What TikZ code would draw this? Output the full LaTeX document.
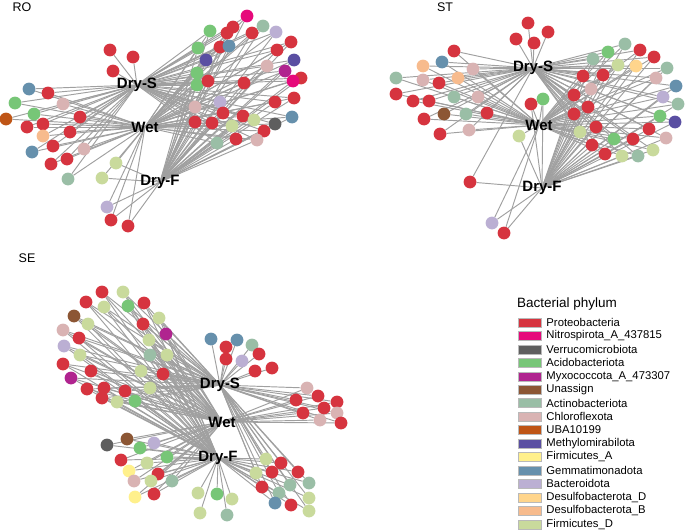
\documentclass[tikz,border=0pt]{standalone}
\usepackage{fontspec}
\setmainfont{Liberation Sans}
\usetikzlibrary{backgrounds,positioning}

\definecolor{cLink}{HTML}{A0A0A0}
\definecolor{cPro}{HTML}{D6343F}
\definecolor{cNit}{HTML}{E6097B}
\definecolor{cVer}{HTML}{5E5E5E}
\definecolor{cAci}{HTML}{77C677}
\definecolor{cMyx}{HTML}{B0248F}
\definecolor{cUna}{HTML}{8C5634}
\definecolor{cAct}{HTML}{9ABEA6}
\definecolor{cChl}{HTML}{D9B3B3}
\definecolor{cUba}{HTML}{BF5516}
\definecolor{cMet}{HTML}{5A4FA2}
\definecolor{cFiA}{HTML}{FFF08C}
\definecolor{cGem}{HTML}{6690AC}
\definecolor{cBac}{HTML}{BBAFD3}
\definecolor{cDeD}{HTML}{FFD58C}
\definecolor{cDeB}{HTML}{F7BB8D}
\definecolor{cFiD}{HTML}{C9DA9C}

\tikzset{
  otu/.style={circle,inner sep=0pt,minimum size=12.8pt},
  link/.style={draw=cLink,line width=0.95pt},
  hub/.style={inner sep=0pt,font=\fontsize{15}{17}\selectfont\bfseries},
  panel/.style={inner sep=0pt,font=\fontsize{12.5}{15}\selectfont},
  key/.style={rectangle,draw=gray!55,line width=0.5pt,minimum width=23pt,minimum height=9pt,inner sep=0pt},
  keytext/.style={inner sep=0pt,font=\fontsize{11.3}{13}\selectfont},
  Pro/.style={fill=cPro}, Nit/.style={fill=cNit}, Ver/.style={fill=cVer},
  Aci/.style={fill=cAci}, Myx/.style={fill=cMyx}, Una/.style={fill=cUna},
  Act/.style={fill=cAct}, Chl/.style={fill=cChl}, Uba/.style={fill=cUba},
  Met/.style={fill=cMet}, FiA/.style={fill=cFiA}, Gem/.style={fill=cGem},
  Bac/.style={fill=cBac}, DeD/.style={fill=cDeD}, DeB/.style={fill=cDeB},
  FiD/.style={fill=cFiD}
}

\begin{document}
\begin{tikzpicture}[x=1pt,y=-1pt]
  \useasboundingbox (0,0) rectangle (685,530);

  \begin{scope}
    % Network RO
    \node[panel] (RO label) at (22,7)   {RO};
    \node[hub]   (RO S)     at (137,85) {Dry-S};
    \node[hub]   (RO W)     at (145,127) {Wet};
    \node[hub]   (RO F)     at (160,182) {Dry-F};
    \foreach \x/\y/\c [count=\i] in {110/50/Pro,133/57/Pro,113/71/Pro} {
      \node[otu,\c] (RO a\i) at (\x,\y) {};
      \begin{scope}[on background layer]
        \draw[link] (RO a\i) -- (RO S.center);
      \end{scope}
    }
    \foreach \x/\y/\c [count=\i] in {29/89/Gem,48/93/Pro,15/103/Aci,63/104/Chl,34/114/Aci,
        6/119/Uba,80/117/Pro,27/127/Pro,43/124/Pro,43/136/DeB,70/132/Pro,53/146/Pro,
        32/152/Gem,84/149/Chl,67/159/Pro,51/164/Pro,68/179/Act} {
      \node[otu,\c] (RO b\i) at (\x,\y) {};
      \begin{scope}[on background layer]
        \foreach \h in {S,W} \draw[link] (RO b\i) -- (RO \h.center);
      \end{scope}
    }
    \foreach \x/\y/\c [count=\i] in {116/163/FiD,102/178/FiD,107/207/Bac,111/220/Pro,128/226/Pro} {
      \node[otu,\c] (RO c\i) at (\x,\y) {};
      \begin{scope}[on background layer]
        \foreach \h in {W,F} \draw[link] (RO c\i) -- (RO \h.center);
      \end{scope}
    }
    \foreach \x/\y/\c [count=\i] in {247/16/Nit,210/31/Aci,233/27/Pro,227/33/Pro,263/26/Act,
        276/32/Bac,252/33/Pro,291/42/Pro,198/48/Aci,220/47/Pro,229/46/Gem,277/50/Pro,
        206/60/Met,294/60/Met,267/66/Chl,285/71/Myx,301/78/Pro,293/81/Nit,197/73/Aci,
        197/85/Aci,208/81/Pro,244/83/Pro,294/98/Pro,275/102/Pro,220/102/Bac,195/107/Chl,
        223/113/Pro,243/116/Pro,254/120/FiD,292/117/Gem,195/122/Pro,212/123/Pro,
        232/126/FiD,275/124/Ver,264/131/Pro,217/143/Act,236/139/Pro,257/140/Chl} {
      \node[otu,\c] (RO d\i) at (\x,\y) {};
      \begin{scope}[on background layer]
        \foreach \h in {S,W,F} \draw[link] (RO d\i) -- (RO \h.center);
      \end{scope}
    }
  \end{scope}

  \begin{scope}
    % Network ST
    \node[panel] (ST label) at (445,7)   {ST};
    \node[hub]   (ST S)     at (533,68)  {Dry-S};
    \node[hub]   (ST W)     at (539,125) {Wet};
    \node[hub]   (ST F)     at (542,188) {Dry-F};
    \foreach \x/\y/\c [count=\i] in {528/23/Pro,548/32/Pro,516/39/Pro,534/43/Pro} {
      \node[otu,\c] (ST a\i) at (\x,\y) {};
      \begin{scope}[on background layer]
        \draw[link] (ST a\i) -- (ST S.center);
      \end{scope}
    }
    \foreach \x/\y/\c [count=\i] in {454/51/Pro,423/66/DeB,442/62/Gem,473/69/Chl,396/78/Act,
        423/80/Chl,458/78/DeB,439/83/Pro,396/94/Pro,413/101/Pro,429/101/Pro,454/97/Act,
        478/97/Chl,424/119/Pro,444/114/Una,466/114/Act,487/113/Pro,440/134/Pro,469/130/Chl} {
      \node[otu,\c] (ST b\i) at (\x,\y) {};
      \begin{scope}[on background layer]
        \foreach \h in {S,W} \draw[link] (ST b\i) -- (ST \h.center);
      \end{scope}
    }
    \foreach \x/\y/\c [count=\i] in {531/104/Pro,543/99/Aci,519/136/FiD,492/223/Bac,504/233/Pro} {
      \node[otu,\c] (ST c\i) at (\x,\y) {};
      \begin{scope}[on background layer]
        \foreach \h in {W,F} \draw[link] (ST c\i) -- (ST \h.center);
      \end{scope}
    }
    \node[otu,Pro] (ST e1) at (470,182) {};
    \begin{scope}[on background layer]
      \draw[link] (ST e1) -- (ST S.center) (ST e1) -- (ST F.center);
    \end{scope}
    \foreach \x/\y/\c [count=\i] in {625/44/Act,608/52/Aci,640/50/Pro,654/57/Pro,593/59/Act,
        618/65/FiD,636/66/DeD,667/68/Act,583/76/Pro,603/75/Pro,656/78/Chl,676/86/Gem,
        591/89/Chl,574/95/Pro,663/97/Bac,678/104/Act,588/107/Pro,574/114/Pro,660/116/Aci,
        675/122/Met,596/127/Pro,580/132/FiD,649/129/Pro,614/139/Aci,633/139/Pro,
        666/138/Chl,592/145/Pro,605/154/Pro,622/156/FiD,638/156/Act,653/150/FiD} {
      \node[otu,\c] (ST d\i) at (\x,\y) {};
      \begin{scope}[on background layer]
        \foreach \h in {S,W,F} \draw[link] (ST d\i) -- (ST \h.center);
      \end{scope}
    }
  \end{scope}

  \begin{scope}
    % Network SE
    \node[panel] (SE label) at (27,258)  {SE};
    \node[hub]   (SE S)     at (220,385) {Dry-S};
    \node[hub]   (SE W)     at (222,422) {Wet};
    \node[hub]   (SE F)     at (218,458) {Dry-F};
    \foreach \x/\y/\c [count=\i] in {102/292/Pro,123/292/FiD,86/302/Pro,104/307/FiD,128/306/Aci,
        144/303/Pro,74/316/Una,159/318/FiD,88/324/FiD,143/324/Pro,63/330/Chl,166/334/Myx,
        79/338/Pro,149/340/FiD,64/346/Bac,150/355/Act,167/355/FiD,80/355/FiD,63/364/Pro,
        91/371/Pro,141/371/FiD,163/374/Pro,71/378/Myx,150/388/FiD,87/389/Pro,104/388/Pro,
        125/391/Pro,102/398/Pro,117/402/FiD,135/401/Aci} {
      \node[otu,\c] (SE a\i) at (\x,\y) {};
      \begin{scope}[on background layer]
        \foreach \h in {S,W,F} \draw[link] (SE a\i) -- (SE \h.center);
      \end{scope}
    }
    \foreach \x/\y/\c [count=\i] in {211/339/Gem,237/340/Gem,226/347/Pro,252/345/Act,259/354/Pro,
        226/359/Pro,242/361/Bac,255/371/Pro,272/368/Pro} {
      \node[otu,\c] (SE b\i) at (\x,\y) {};
      \begin{scope}[on background layer]
        \draw[link] (SE b\i) -- (SE S.center);
      \end{scope}
    }
    \foreach \x/\y/\c [count=\i] in {307/388/Chl,318/396/Pro,296/400/Pro,337/402/Pro,324/408/Pro,
        303/413/Pro,337/413/Chl,320/420/Chl,341/423/Pro} {
      \node[otu,\c] (SE c\i) at (\x,\y) {};
      \begin{scope}[on background layer]
        \foreach \h in {S,W} \draw[link] (SE c\i) -- (SE \h.center);
      \end{scope}
    }
    \foreach \x/\y/\c [count=\i] in {107/445/Ver,127/439/Una,140/448/Aci,154/443/Bac,121/460/Pro,
        147/463/FiD,167/457/Aci,129/471/FiA,158/474/Pro,134/481/Chl,151/481/FiD,
        172/481/Act,135/497/FiA,154/494/Pro} {
      \node[otu,\c] (SE d\i) at (\x,\y) {};
      \begin{scope}[on background layer]
        \foreach \h in {W,F} \draw[link] (SE d\i) -- (SE \h.center);
      \end{scope}
    }
    \foreach \x/\y/\c [count=\i] in {198/493/FiD,217/494/Aci,232/499/FiD,200/513/FiD,227/515/Act} {
      \node[otu,\c] (SE e\i) at (\x,\y) {};
      \begin{scope}[on background layer]
        \draw[link] (SE e\i) -- (SE F.center);
      \end{scope}
    }
    \foreach \x/\y/\c [count=\i] in {266/459/FiD,281/463/Pro,272/472/Pro,256/473/FiD,298/472/Pro,
        290/485/Act,309/483/Act,262/487/Pro,279/493/Act,309/498/FiD,275/503/Gem,
        291/505/Pro,309/511/FiD} {
      \node[otu,\c] (SE f\i) at (\x,\y) {};
      \begin{scope}[on background layer]
        \foreach \h in {S,F} \draw[link] (SE f\i) -- (SE \h.center);
      \end{scope}
    }
  \end{scope}

  % Legend
  \node[anchor=west,inner sep=0pt,font=\fontsize{13.5}{16}\selectfont] (key title) at (517,304) {Bacterial phylum};
  \foreach \c/\t [count=\k] in {Pro/Proteobacteria,Nit/Nitrospirota\_A\_437815,Ver/Verrucomicrobiota,
      Aci/Acidobacteriota,Myx/Myxococcota\_A\_473307,Una/Unassign,Act/Actinobacteriota,
      Chl/Chloroflexota,Uba/UBA10199,Met/Methylomirabilota,FiA/Firmicutes\_A,
      Gem/Gemmatimonadota,Bac/Bacteroidota,DeD/Desulfobacterota\_D,
      DeB/Desulfobacterota\_B,FiD/Firmicutes\_D} {
    \node[key,\c] (key\k) at (529.5,{322.5+13.45*(\k-1)}) {};
    \node[keytext,right=5pt of key\k] (keytext\k) {\t};
  }
\end{tikzpicture}
\end{document}
